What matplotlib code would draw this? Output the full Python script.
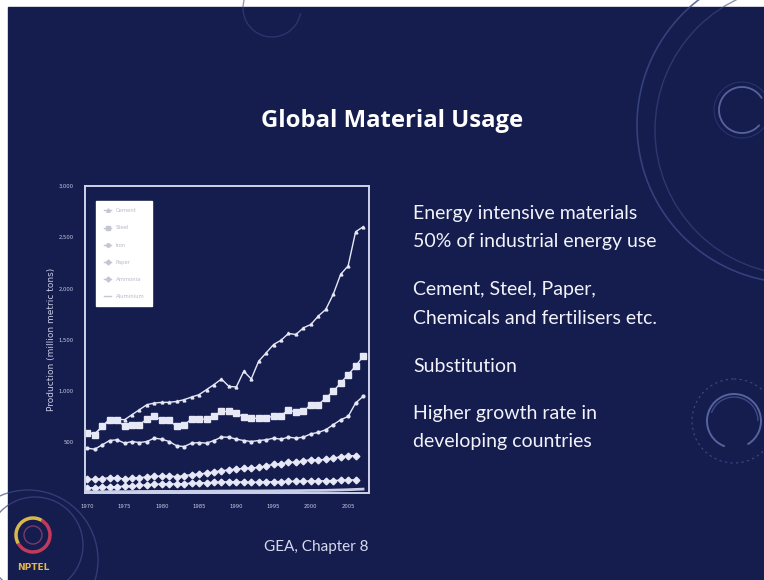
import numpy as np
import matplotlib.pyplot as plt
from matplotlib.patches import Circle, Arc, Rectangle
from matplotlib.lines import Line2D

# production data, million metric tons
years = list(range(1970, 2008))
cement = [595, 578, 650, 722, 722, 716, 765, 814, 863, 879, 886, 886, 895, 912,
          938, 961, 1010, 1059, 1114, 1042, 1036, 1190, 1114, 1288, 1369, 1451,
          1493, 1559, 1549, 1614, 1647, 1729, 1794, 1941, 2137, 2219, 2552, 2601]
steel = [590, 569, 650, 709, 716, 650, 667, 667, 722, 748, 716, 709, 650, 667,
         722, 722, 722, 755, 797, 797, 781, 742, 732, 729, 729, 755, 755, 814,
         788, 797, 863, 863, 928, 993, 1075, 1157, 1239, 1337]
iron = [438, 428, 470, 513, 520, 487, 503, 493, 503, 536, 526, 503, 461, 454,
        487, 493, 487, 513, 546, 546, 526, 513, 503, 513, 520, 536, 526, 546,
        536, 546, 578, 592, 618, 667, 716, 748, 879, 944]
paper_years = list(range(1970, 2007))
paper = [134, 134, 140, 150, 150, 135, 145, 150, 158, 165, 165, 165, 160, 170,
         180, 185, 195, 205, 218, 225, 235, 240, 245, 250, 265, 280, 285, 300,
         300, 315, 325, 322, 330, 340, 355, 362, 366]
ammonia = [50, 52, 56, 60, 63, 66, 70, 74, 80, 85, 88, 90, 88, 92, 96, 100,
           100, 104, 108, 110, 110, 106, 104, 106, 108, 110, 112, 114, 114,
           116, 118, 118, 120, 122, 125, 127, 129]
aluminium = [10, 11, 12, 13, 14, 13, 14, 15, 15, 16, 16, 16, 15, 16, 17, 17,
             17, 18, 19, 19, 20, 20, 20, 20, 21, 21, 22, 23, 23, 24, 25, 25,
             26, 28, 30, 32, 35, 38]

series_names = ['Cement', 'Steel', 'Iron', 'Paper', 'Ammonia', 'Aluminium']
y_ticks = [500, 1000, 1500, 2000, 2500, 3000]
x_ticks = [1970, 1975, 1980, 1985, 1990, 1995, 2000, 2005]

bullets = ['Energy intensive materials', '50% of industrial energy use',
           'Cement, Steel, Paper,', 'Chemicals and fertilisers etc.',
           'Substitution', 'Higher growth rate in', 'developing countries']
bullet_y = [213, 242, 290, 318, 366, 413, 441]

BG = '#151d4f'
LINE = '#e6e8f6'
DECO = '#3d4a86'

W, H = 764, 580
fig = plt.figure(figsize=(W / 100, H / 100), dpi=100)
fig.patch.set_facecolor('white')

# slide background drawn in pixel coordinates
bg = fig.add_axes([0, 0, 1, 1])
bg.set_xlim(0, W)
bg.set_ylim(H, 0)
bg.axis('off')
bg.add_patch(Rectangle((8, 7), W - 8, H - 7, color=BG, zorder=0))

# faint circle ornaments
bg.add_patch(Circle((795, 125), 158, fill=False, ec=DECO, lw=1.2, alpha=0.8))
bg.add_patch(Circle((800, 130), 145, fill=False, ec=DECO, lw=1.0, alpha=0.6))
bg.add_patch(Arc((742, 110), 46, 46, theta1=40, theta2=330, ec='#56639c', lw=1.3))
bg.add_patch(Circle((742, 110), 28, fill=False, ec=DECO, lw=0.8, alpha=0.5))
bg.add_patch(Arc((734, 421), 54, 54, theta1=110, theta2=420, ec='#56639c', lw=1.4))
bg.add_patch(Arc((734, 421), 48, 48, theta1=200, theta2=360, ec=DECO, lw=1.0))
bg.add_patch(Circle((734, 421), 42, fill=False, ec=DECO, lw=0.8, ls=(0, (2, 3))))
bg.add_patch(Arc((272, 8), 58, 58, theta1=10, theta2=200, ec=DECO, lw=1.0, alpha=0.55))
bg.add_patch(Circle((28, 560), 70, fill=False, ec=DECO, lw=1.0, alpha=0.7))
bg.add_patch(Circle((35, 545), 48, fill=False, ec=DECO, lw=1.0, alpha=0.7))

# NPTEL emblem
bg.add_patch(Arc((33, 535), 34, 34, theta1=-60, theta2=150, ec='#c23a5a', lw=2.5))
bg.add_patch(Arc((33, 535), 34, 34, theta1=150, theta2=300, ec='#d8b84a', lw=2.5))
bg.add_patch(Circle((33, 535), 9, fill=False, ec='#7a3a6a', lw=1))
bg.text(33, 568, 'NPTEL', color='#e2b64c', fontsize=6.5, fontweight='bold',
        ha='center', va='center', family='DejaVu Sans')

bg.text(392, 121, 'Global Material Usage', color='white', fontsize=17.2,
        fontweight='bold', ha='center', va='center', family='Open Sans')
for txt, yy in zip(bullets, bullet_y):
    bg.text(413, yy, txt, color='#f2f3fa', fontsize=14, ha='left',
            va='center', family='Lato')
bg.text(264, 547, 'GEA, Chapter 8', color='#d6d9ee', fontsize=11,
        ha='left', va='center', family='Lato')

# production chart
ax = fig.add_axes([85 / W, 1 - 493 / H, 284 / W, 307 / H])
ax.set_facecolor('none')
ax.plot(years, cement, color=LINE, lw=1.0, marker='^', ms=2, label=series_names[0])
ax.plot(years, steel, color=LINE, lw=1.0, marker='s', ms=3.8, label=series_names[1])
ax.plot(years, iron, color=LINE, lw=1.0, marker='o', ms=2, label=series_names[2])
ax.plot(paper_years, paper, color=LINE, lw=1.0, marker='D', ms=3.4, label=series_names[3])
ax.plot(paper_years, ammonia, color=LINE, lw=1.0, marker='D', ms=3.4, label=series_names[4])
ax.plot(years, aluminium, color='#c8cde8', lw=2.0, label=series_names[5])

ax.set_xlim(1969.7, 2007.8)
ax.set_ylim(0, 3000)
ax.set_xticks(x_ticks)
ax.set_yticks(y_ticks)
ax.set_yticklabels([f'{v:,}' for v in y_ticks])
ax.tick_params(length=0, labelsize=3.8, labelcolor='#c8cce4', pad=8)
for sp in ax.spines.values():
    sp.set_color('#cfd3ea')
    sp.set_linewidth(1.4)
ax.set_ylabel('Production (million metric tons)', fontsize=6.5, color='#c8cce4',
              labelpad=2)

handles = [Line2D([], [], color='#c4c6d2', lw=1, marker=m, ms=2.5)
           for m in ['^', 's', 'o', 'D', 'D', '']]
leg = ax.legend(handles, series_names, loc='upper left',
                bbox_to_anchor=(0.03, 0.96), fontsize=3.8, labelspacing=2.3,
                handlelength=1.5, borderpad=1.4, fancybox=False,
                facecolor='white', edgecolor='white', framealpha=1)
for t in leg.get_texts():
    t.set_color('#b8bac8')

fig.savefig('out.png', dpi=100, facecolor=fig.get_facecolor())
